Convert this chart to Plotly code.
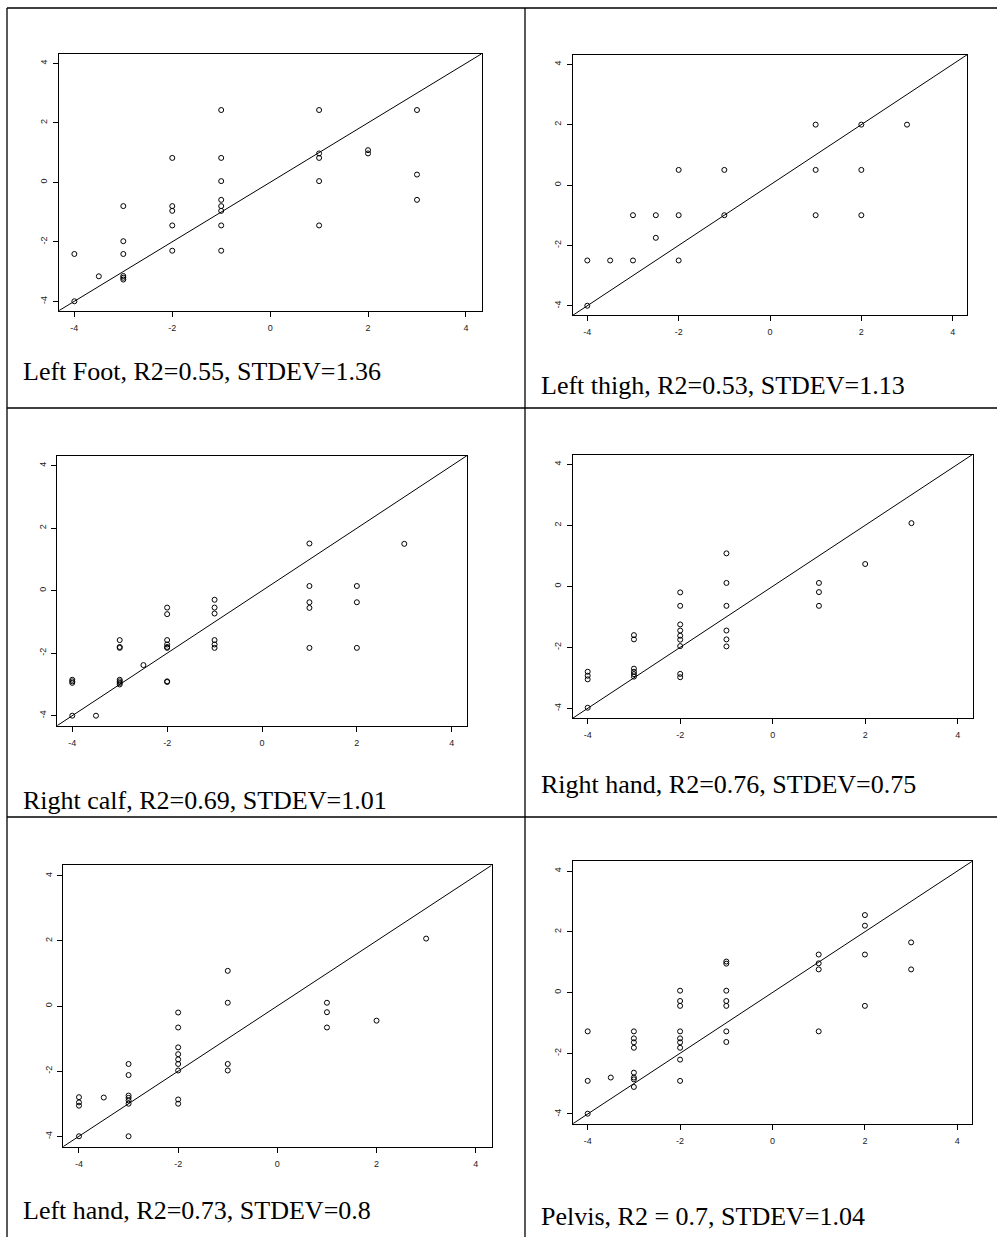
import plotly.graph_objects as go

W, H = 997, 1237
AXIS_RANGE = [-4.32, 4.32]
TICKS = [-4, -2, 0, 2, 4]
TICK_TEXT = ["-4", "-2", "0", "2", "4"]

captions = [
    "Left Foot, R2=0.55, STDEV=1.36",
    "Left thigh, R2=0.53, STDEV=1.13",
    "Right calf, R2=0.69, STDEV=1.01",
    "Right hand, R2=0.76, STDEV=0.75",
    "Left hand, R2=0.73, STDEV=0.8",
    "Pelvis, R2 = 0.7, STDEV=1.04",
]

left_foot_x = [-4, -4, -3.5, -3, -3, -3, -3, -3, -3, -2, -2, -2, -2, -2,
               -1, -1, -1, -1, -1, -1, -1, -1, 1, 1, 1, 1, 1, 2, 2, 3, 3, 3]
left_foot_y = [-2.41, -4.0, -3.16, -0.8, -1.98, -2.41, -3.15, -3.21, -3.27,
               0.82, -0.8, -0.96, -1.45, -2.3,
               2.43, 0.82, 0.04, -0.59, -0.8, -0.96, -1.45, -2.3,
               2.43, 0.97, 0.82, 0.04, -1.45, 1.08, 0.97, 2.43, 0.26, -0.59]

left_thigh_x = [-4, -4, -3.5, -3, -3, -2.5, -2.5, -2, -2, -2, -1, -1,
                1, 1, 1, 2, 2, 2, 3]
left_thigh_y = [-2.5, -4, -2.5, -1, -2.5, -1, -1.75, 0.5, -1, -2.5, 0.5, -1,
                2, 0.5, -1, 2, 0.5, -1, 2]

right_calf_x = [-4, -4, -4, -4, -3.5,
                -3, -3, -3, -3, -3, -3, -3, -2.5,
                -2, -2, -2, -2, -2, -2, -2, -2,
                -1, -1, -1, -1, -1, -1,
                1, 1, 1, 1, 1, 2, 2, 2, 3]
right_calf_y = [-2.85, -2.9, -2.95, -4, -4,
                -1.58, -1.8, -1.83, -2.85, -2.9, -2.95, -3.0, -2.38,
                -0.54, -0.75, -1.58, -1.72, -1.8, -1.83, -2.9, -2.92,
                -0.29, -0.54, -0.73, -1.58, -1.72, -1.83,
                1.51, 0.15, -0.37, -0.55, -1.83, 0.15, -0.37, -1.83, 1.5]

right_hand_x = [-4, -4, -4, -4,
                -3, -3, -3, -3, -3, -3,
                -2, -2, -2, -2, -2, -2, -2, -2, -2,
                -1, -1, -1, -1, -1, -1,
                1, 1, 1, 2, 3]
right_hand_y = [-2.8, -2.93, -3.05, -3.98,
                -1.6, -1.74, -2.7, -2.8, -2.88, -2.96,
                -0.2, -0.64, -1.25, -1.45, -1.62, -1.75, -1.96, -2.87, -2.98,
                1.08, 0.11, -0.64, -1.45, -1.74, -1.97,
                0.11, -0.19, -0.64, 0.73, 2.07]

left_hand_x = [-4, -4, -4, -4, -3.5,
               -3, -3, -3, -3, -3, -3, -3,
               -2, -2, -2, -2, -2, -2, -2, -2, -2,
               -1, -1, -1, -1,
               1, 1, 1, 2, 3]
left_hand_y = [-2.8, -2.96, -3.06, -4, -2.81,
               -1.78, -2.12, -2.75, -2.82, -2.9, -3.0, -4.0,
               -0.2, -0.66, -1.27, -1.48, -1.64, -1.78, -1.98, -2.87, -3.0,
               1.08, 0.1, -1.78, -1.98,
               0.1, -0.19, -0.66, -0.45, 2.07]

pelvis_x = [-4, -4, -4, -3.5,
            -3, -3, -3, -3, -3, -3, -3, -3,
            -2, -2, -2, -2, -2, -2, -2, -2, -2,
            -1, -1, -1, -1, -1, -1, -1,
            1, 1, 1, 1, 2, 2, 2, 2, 3, 3]
pelvis_y = [-1.28, -2.91, -3.99, -2.8,
            -1.28, -1.51, -1.64, -1.82, -2.64, -2.8, -2.86, -3.11,
            0.06, -0.28, -0.44, -1.28, -1.51, -1.64, -1.82, -2.21, -2.91,
            1.02, 0.95, 0.06, -0.28, -0.44, -1.28, -1.63,
            1.25, 0.96, 0.76, -1.28, 2.55, 2.2, 1.25, -0.44, 1.65, 0.76]

series = [
    (left_foot_x, left_foot_y),
    (left_thigh_x, left_thigh_y),
    (right_calf_x, right_calf_y),
    (right_hand_x, right_hand_y),
    (left_hand_x, left_hand_y),
    (pelvis_x, pelvis_y),
]

# pixel boxes of the plot areas: left, right, top, bottom
boxes = [
    (58.7, 481.6, 53.8, 310.8),
    (572.7, 967.3, 54.6, 315.4),
    (57.1, 466.9, 455.7, 725.7),
    (572.9, 972.5, 454.5, 718.1),
    (63.1, 491.6, 865.3, 1146.7),
    (572.9, 972.1, 861.3, 1123.7),
]
# caption positions: left x, vertical centre y (pixels)
caption_pos = [
    (20.7, 372), (539.3, 385),
    (20.7, 800), (539.3, 784),
    (20.7, 1210), (539.3, 1216),
]

fig = go.Figure()
annotations = []
for i, ((xs, ys), (l, r, t, b), cap, (cx, cy)) in enumerate(
        zip(series, boxes, captions, caption_pos)):
    n = "" if i == 0 else str(i + 1)
    xa, ya = "x" + n, "y" + n
    fig.add_trace(go.Scatter(
        x=AXIS_RANGE, y=AXIS_RANGE, mode="lines",
        line=dict(color="black", width=1), xaxis=xa, yaxis=ya,
        showlegend=False, hoverinfo="skip"))
    fig.add_trace(go.Scatter(
        x=xs, y=ys, mode="markers",
        marker=dict(symbol="circle-open", size=5, color="black",
                    line=dict(width=1, color="black")),
        xaxis=xa, yaxis=ya, showlegend=False))
    common = dict(range=AXIS_RANGE, showgrid=False, zeroline=False,
                  showline=True, linecolor="black", linewidth=1, mirror=True,
                  ticks="outside", ticklen=5, tickwidth=1, tickcolor="black",
                  tickvals=TICKS, ticktext=TICK_TEXT,
                  tickfont=dict(family="Liberation Sans, Arial", size=9, color="#222"))
    fig.layout["xaxis" + n] = dict(common, domain=[l / W, r / W],
                                   anchor=ya, ticklabelstandoff=3)
    fig.layout["yaxis" + n] = dict(common, domain=[1 - b / H, 1 - t / H],
                                   anchor=xa, tickangle=-90, ticklabelstandoff=2)
    annotations.append(dict(
        text=cap, x=cx / W, y=1 - cy / H, xref="paper", yref="paper",
        xanchor="left", yanchor="middle", showarrow=False,
        font=dict(family="Liberation Serif, Times New Roman", size=26, color="black")))

# table grid lines (pixels)
shapes = []
def hline(y, x0=7, x1=W):
    shapes.append(dict(type="line", xref="paper", yref="paper",
                       x0=x0 / W, x1=x1 / W, y0=1 - y / H, y1=1 - y / H,
                       line=dict(color="black", width=1.3)))
def vline(x, y0=8, y1=H):
    shapes.append(dict(type="line", xref="paper", yref="paper",
                       x0=x / W, x1=x / W, y0=1 - y0 / H, y1=1 - y1 / H,
                       line=dict(color="black", width=1.3)))
hline(8)
hline(408)
hline(817)
vline(7)
vline(525)

fig.update_layout(
    width=W, height=H, margin=dict(l=0, r=0, t=0, b=0),
    paper_bgcolor="white", plot_bgcolor="white",
    annotations=annotations, shapes=shapes, showlegend=False)

fig.write_html(
    "out.html",
    config={"displayModeBar": False},
    post_script="document.body.style.margin='0';document.body.style.overflow='hidden';")
